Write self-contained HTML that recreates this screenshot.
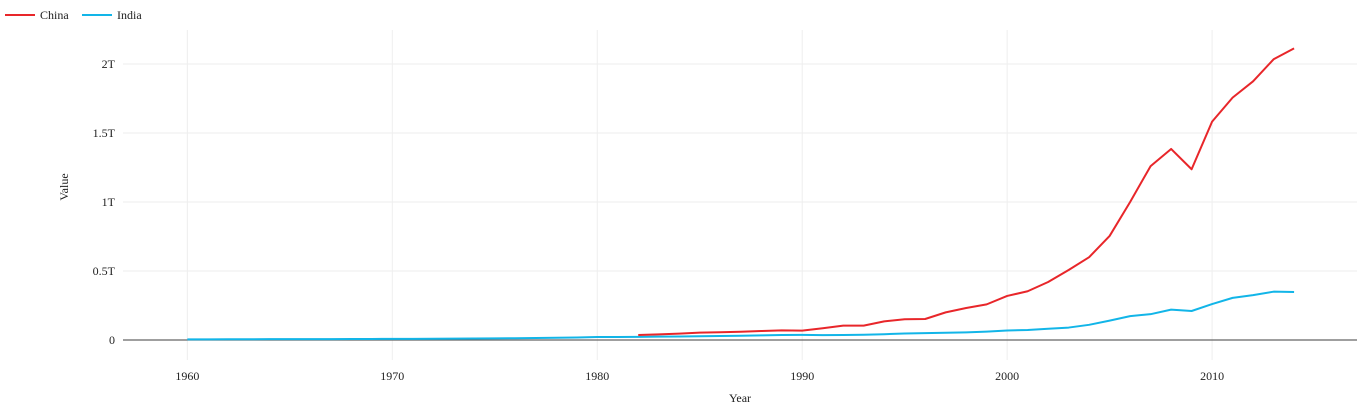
<!DOCTYPE html>
<html><head><meta charset="utf-8"><style>
body{margin:0;background:#fff;}
svg{display:block;font-family:"Liberation Serif",serif;}
</style></head><body>
<svg id="chart" width="1357" height="404"></svg>
<script>
const years = [];
for (let y = 1960; y <= 2014; y++) years.push(y);
const chinaYears = [1982,1983,1984,1985,1986,1987,1988,1989,1990,1991,1992,1993,1994,1995,1996,1997,1998,1999,2000,2001,2002,2003,2004,2005,2006,2007,2008,2009,2010,2011,2012,2013,2014];
const chinaValues = [0.036,0.041,0.046,0.053,0.056,0.060,0.065,0.070,0.068,0.085,0.104,0.104,0.135,0.150,0.152,0.200,0.232,0.258,0.319,0.353,0.420,0.507,0.600,0.754,1.000,1.260,1.384,1.237,1.582,1.756,1.874,2.034,2.113];
const indiaValues = [0.004,0.0045,0.005,0.0055,0.006,0.0065,0.006,0.0065,0.007,0.0075,0.008,0.0085,0.009,0.0095,0.011,0.012,0.013,0.014,0.016,0.018,0.022,0.022,0.023,0.024,0.025,0.027,0.029,0.031,0.033,0.036,0.037,0.035,0.036,0.038,0.042,0.047,0.050,0.052,0.055,0.061,0.069,0.072,0.081,0.090,0.110,0.140,0.173,0.187,0.220,0.210,0.260,0.305,0.325,0.350,0.348];
const xTicks = [1960,1970,1980,1990,2000,2010];
const yTicks = [0,0.5,1,1.5,2];
const yTickLabels = ["0","0.5T","1T","1.5T","2T"];

const svg = document.getElementById('chart');
const NS = 'http://www.w3.org/2000/svg';
const X0 = 123, X1 = 1357, Y0 = 30, Y1 = 360;
const xMin = 1956.86, xMax = 2017.07, yMin = -0.145, yMax = 2.246;
const xs = v => X0 + (v - xMin) / (xMax - xMin) * (X1 - X0);
const ys = v => Y1 - (v - yMin) / (yMax - yMin) * (Y1 - Y0);
function mk(tag, attrs, parent) {
  const e = document.createElementNS(NS, tag);
  for (const k in attrs) e.setAttribute(k, attrs[k]);
  (parent || svg).appendChild(e);
  return e;
}
xTicks.forEach(t => {
  const l = mk('line', {x1: xs(t), x2: xs(t), y1: Y0, y2: Y1, stroke: '#eee', 'stroke-width': 1});
  
  
  const tx = mk('text', {x: xs(t), y: 380, 'text-anchor': 'middle', 'font-size': 12, fill: '#222'});
  tx.textContent = t;
  
  
});
yTicks.forEach((t, i) => {
  if (t !== 0) {
    const l = mk('line', {x1: X0, x2: X1, y1: ys(t), y2: ys(t), stroke: '#eee', 'stroke-width': 1});
    
    
  }
  const tx = mk('text', {x: 115, y: ys(t) + 4, 'text-anchor': 'end', 'font-size': 12, fill: '#222'});
  tx.textContent = yTickLabels[i];
  
  
});
const zl = mk('line', {x1: X0, x2: X1, y1: ys(0), y2: ys(0), stroke: '#666', 'stroke-width': 1.2});



const pI = mk('polyline', {points: years.map((y, i) => xs(y) + ',' + ys(indiaValues[i])).join(' '), fill: 'none', stroke: '#12b5e8', 'stroke-width': 2, 'stroke-linejoin': 'round'});


const pC = mk('polyline', {points: chinaYears.map((y, i) => xs(y) + ',' + ys(chinaValues[i])).join(' '), fill: 'none', stroke: '#e8262a', 'stroke-width': 2, 'stroke-linejoin': 'round'});



const yt = mk('text', {x: 0, y: 0, transform: 'translate(68,187) rotate(-90)', 'text-anchor': 'middle', 'font-size': 12, fill: '#222'});
yt.textContent = 'Value';


const xt = mk('text', {x: 740, y: 402, 'text-anchor': 'middle', 'font-size': 12, fill: '#222'});
xt.textContent = 'Year';



[['China', '#e8262a', 5], ['India', '#12b5e8', 82]].forEach(([n, c, x]) => {
  const g = mk('g', {});
  
  
  mk('line', {x1: x, x2: x + 30, y1: 15, y2: 15, stroke: c, 'stroke-width': 2}, g);
  const t = mk('text', {x: x + 35, y: 19, 'font-size': 12, fill: '#222'}, g);
  t.textContent = n;
});
</script>
</body></html>
